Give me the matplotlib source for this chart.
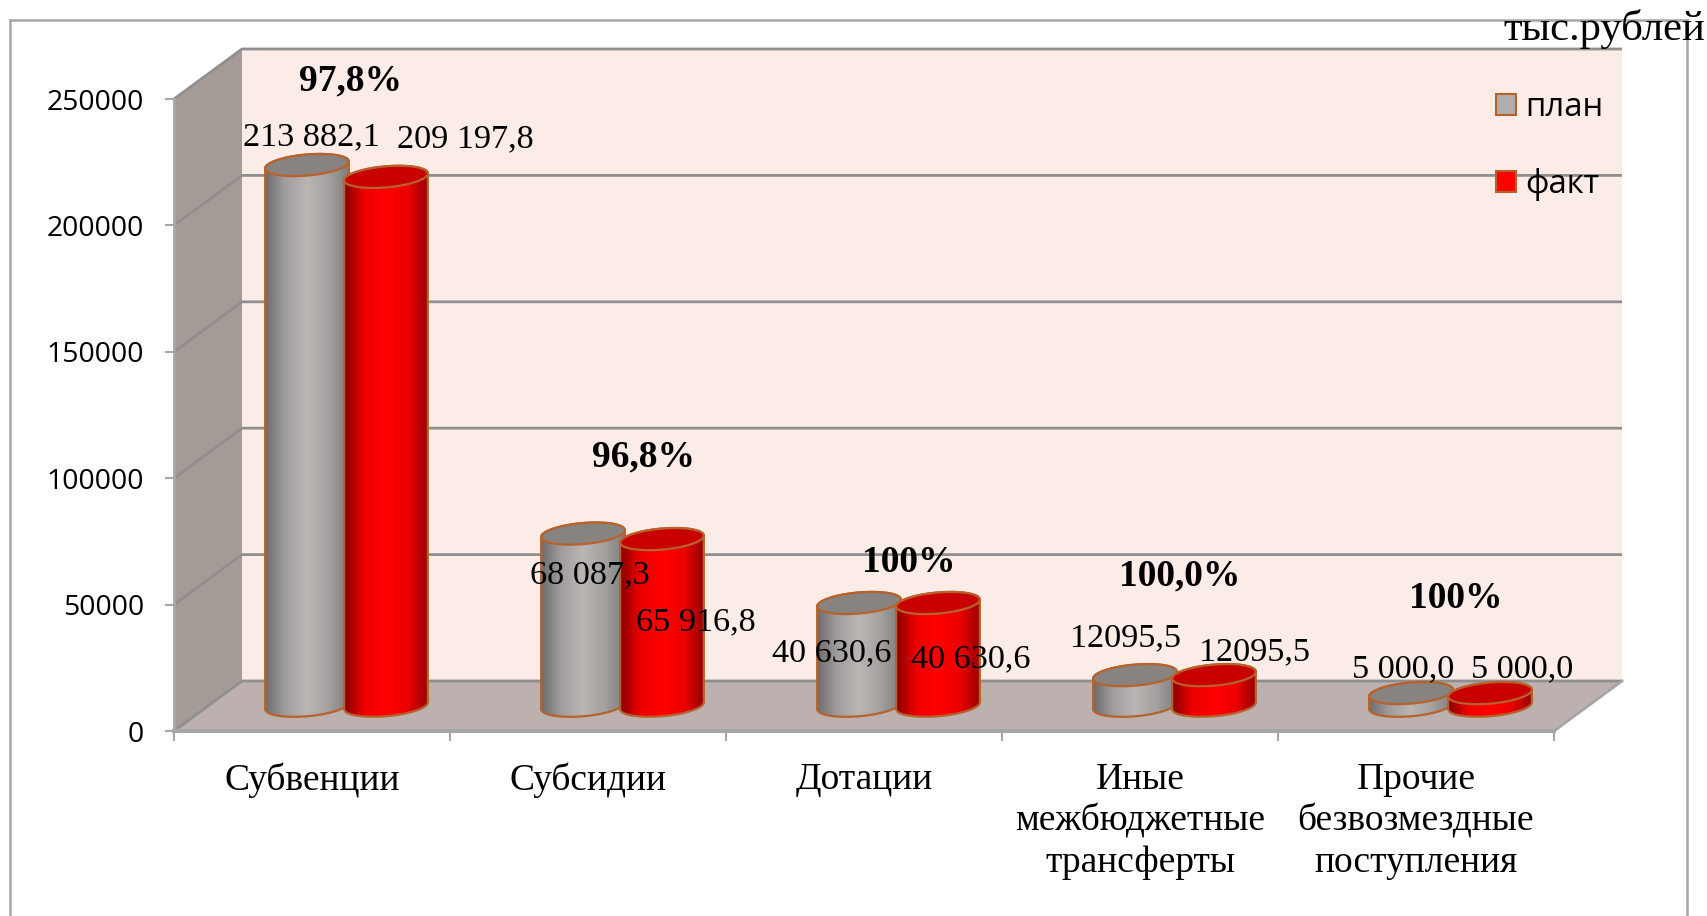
# -*- coding: utf-8 -*-
import numpy as np
import matplotlib
matplotlib.use('Agg')
import matplotlib.pyplot as plt
from matplotlib.colors import LinearSegmentedColormap
from matplotlib.lines import Line2D
from matplotlib.patches import Patch, Polygon

categories = ['Субвенции', 'Субсидии', 'Дотации',
              'Иные\nмежбюджетные\nтрансферты',
              'Прочие\nбезвозмездные\nпоступления']
plan = [213882.1, 68087.3, 40630.6, 12095.5, 5000.0]
fact = [209197.8, 65916.8, 40630.6, 12095.5, 5000.0]
plan_labels = ['213 882,1', '68 087,3', '40 630,6', '12095,5', '5 000,0']
fact_labels = ['209 197,8', '65 916,8', '40 630,6', '12095,5', '5 000,0']
percents = ['97,8%', '96,8%', '100%', '100,0%', '100%']
yticks = [0, 50000, 100000, 150000, 200000, 250000]

W, H = 1708, 916
SERIF = 'Liberation Serif'
SANS = 'Open Sans'

# front plane of the 3d box, in pixels
x0, x1, y0, y1 = 174, 1554, 731, 99
px_x = (x1 - x0) / len(categories)
px_y = (y0 - y1) / 250000
depth_x = 68 / px_x
depth_y = 50 / px_y

# where the free text sits, pixels from top left
plan_pos = [(311, 137), (590, 575), (832, 653), (1126, 638), (1403, 669)]
fact_pos = [(465, 139), (696, 622), (971, 659), (1255, 652), (1522, 669)]
pct_pos = [(351, 81), (644, 457), (909, 562), (1180, 576), (1456, 599)]

fig = plt.figure(figsize=(W / 100, H / 100), dpi=100)
ax = fig.add_axes([x0 / W, 1 - y0 / H, (x1 - x0) / W, (y0 - y1) / H])
ax.patch.set_visible(False)
n = len(categories)

wall_c = '#fbece8'
side_c = '#a59b96'
floor_c = '#bcb1ae'
grid_c = '#8f8f8f'
axis_c = '#a6a6a6'
edge_c = '#b8622b'

ax.add_patch(Polygon([(depth_x, depth_y), (n + depth_x, depth_y),
                      (n + depth_x, 250000 + depth_y), (depth_x, 250000 + depth_y)],
                     fc=wall_c, ec='none', clip_on=False, zorder=1))
ax.add_patch(Polygon([(0, 0), (depth_x, depth_y), (depth_x, 250000 + depth_y), (0, 250000)],
                     fc=side_c, ec='none', clip_on=False, zorder=1))
ax.add_patch(Polygon([(0, 0), (depth_x, depth_y), (n + depth_x, depth_y), (n, 0)],
                     fc=floor_c, ec='none', clip_on=False, zorder=1))

for v in yticks:
    ax.plot([0, depth_x, n + depth_x], [v, v + depth_y, v + depth_y], color=grid_c, lw=2,
            clip_on=False, zorder=2, solid_capstyle='butt')
ax.plot([n, n + depth_x], [0, depth_y], color=axis_c, lw=2, clip_on=False, zorder=2)

# cylinders
lift = 10000
a_px, b_px = 42, 10.5
th = np.radians(5.0)


def ell(t, cx, cy):
    ex = a_px * np.cos(t) * np.cos(th) - b_px * np.sin(t) * np.sin(th)
    ey = a_px * np.cos(t) * np.sin(th) + b_px * np.sin(t) * np.cos(th)
    return np.column_stack([cx + ex / px_x, cy + ey / px_y])


def cylinder(cx, value, colors, top_c, z):
    tr = np.arctan2(-b_px * np.sin(th), a_px * np.cos(th))
    low = ell(np.linspace(tr - np.pi, tr, 60), cx, lift)
    up = ell(np.linspace(tr, tr + np.pi, 60), cx, lift + value)
    body = Polygon(np.vstack([low, up]), closed=True, fc='none', ec=edge_c, lw=1.6,
                   clip_on=False, zorder=z + 0.1)
    ax.add_patch(body)
    cmap = LinearSegmentedColormap.from_list('c', colors)
    im = ax.imshow(np.linspace(0, 1, 256).reshape(1, -1), cmap=cmap, aspect='auto',
                   extent=(cx - 44 / px_x, cx + 44 / px_x, 0, lift + value + 30 / px_y),
                   zorder=z, interpolation='bilinear')
    im.set_clip_path(body)
    top = ell(np.linspace(0, 2 * np.pi, 120), cx, lift + value)
    ax.add_patch(Polygon(top, closed=True, fc=top_c, ec=edge_c, lw=1.6, clip_on=False,
                         zorder=z + 0.2))


grey = ['#666666', '#a09e9d', '#bab6b4', '#a3a09f', '#7a7a7a']
red = ['#7a0000', '#ee0000', '#ff0000', '#ee0000', '#8c0000']
for i in range(n):
    cylinder(i + 133 / px_x, plan[i], grey, '#878381', 3 + i)
    cylinder(i + 212 / px_x, fact[i], red, '#c80000', 3.5 + i)

ax.set_xlim(0, n)
ax.set_ylim(0, 250000)

# axes
for s in ['top', 'right']:
    ax.spines[s].set_visible(False)
ax.spines['left'].set_color(axis_c)
ax.spines['left'].set_linewidth(2)
ax.spines['bottom'].set_color(axis_c)
ax.spines['bottom'].set_linewidth(3)
ax.set_yticks(yticks)
ax.set_yticklabels([str(v) for v in yticks], fontfamily=SANS, fontsize=20.4)
ax.tick_params(axis='y', length=6.5, width=1.5, color=axis_c, pad=15)
ax.set_xticks(range(n + 1))
ax.set_xticklabels([])
ax.tick_params(axis='x', which='major', length=7, width=1.5, color=axis_c)
ax.set_xticks(np.arange(n) + 0.5, minor=True)
ax.set_xticklabels(categories, minor=True, fontfamily=SERIF, fontsize=27, linespacing=1.25)
ax.tick_params(axis='x', which='minor', length=0, pad=22.5)

# text
for i in range(n):
    fig.text(plan_pos[i][0] / W, 1 - plan_pos[i][1] / H, plan_labels[i], family=SERIF,
             fontsize=24.7, ha='center', va='center', zorder=20)
    fig.text(fact_pos[i][0] / W, 1 - fact_pos[i][1] / H, fact_labels[i], family=SERIF,
             fontsize=24.7, ha='center', va='center', zorder=20)
    fig.text(pct_pos[i][0] / W, 1 - pct_pos[i][1] / H, percents[i], family=SERIF,
             fontsize=27, fontweight='bold', ha='center', va='center', zorder=20)

fig.text(1705 / W, 1 - 40 / H, 'тыс.рублей', family=SERIF, fontsize=30.7, ha='right',
         va='baseline', zorder=20)

handles = [Patch(fc='#b0aeae', ec=edge_c, lw=1.5, label='план'),
           Patch(fc='#ff0000', ec=edge_c, lw=1.5, label='факт')]
leg = fig.legend(handles=handles, loc='upper left', bbox_to_anchor=(1496 / W, 1 - 91 / H),
                 frameon=False, prop={'family': SANS, 'size': 23.7}, handlelength=0.61,
                 handleheight=0.61, handletextpad=0.27, labelspacing=1.35, borderpad=0,
                 borderaxespad=0)

# outer frame, open at the bottom
for xs, ys in [([10, 10], [916, 20]), ([10, 1687], [20, 20]), ([1687, 1687], [20, 916])]:
    fig.add_artist(Line2D([x / W for x in xs], [1 - y / H for y in ys], color=axis_c, lw=1.8))

plt.savefig('out.png', dpi=100)
